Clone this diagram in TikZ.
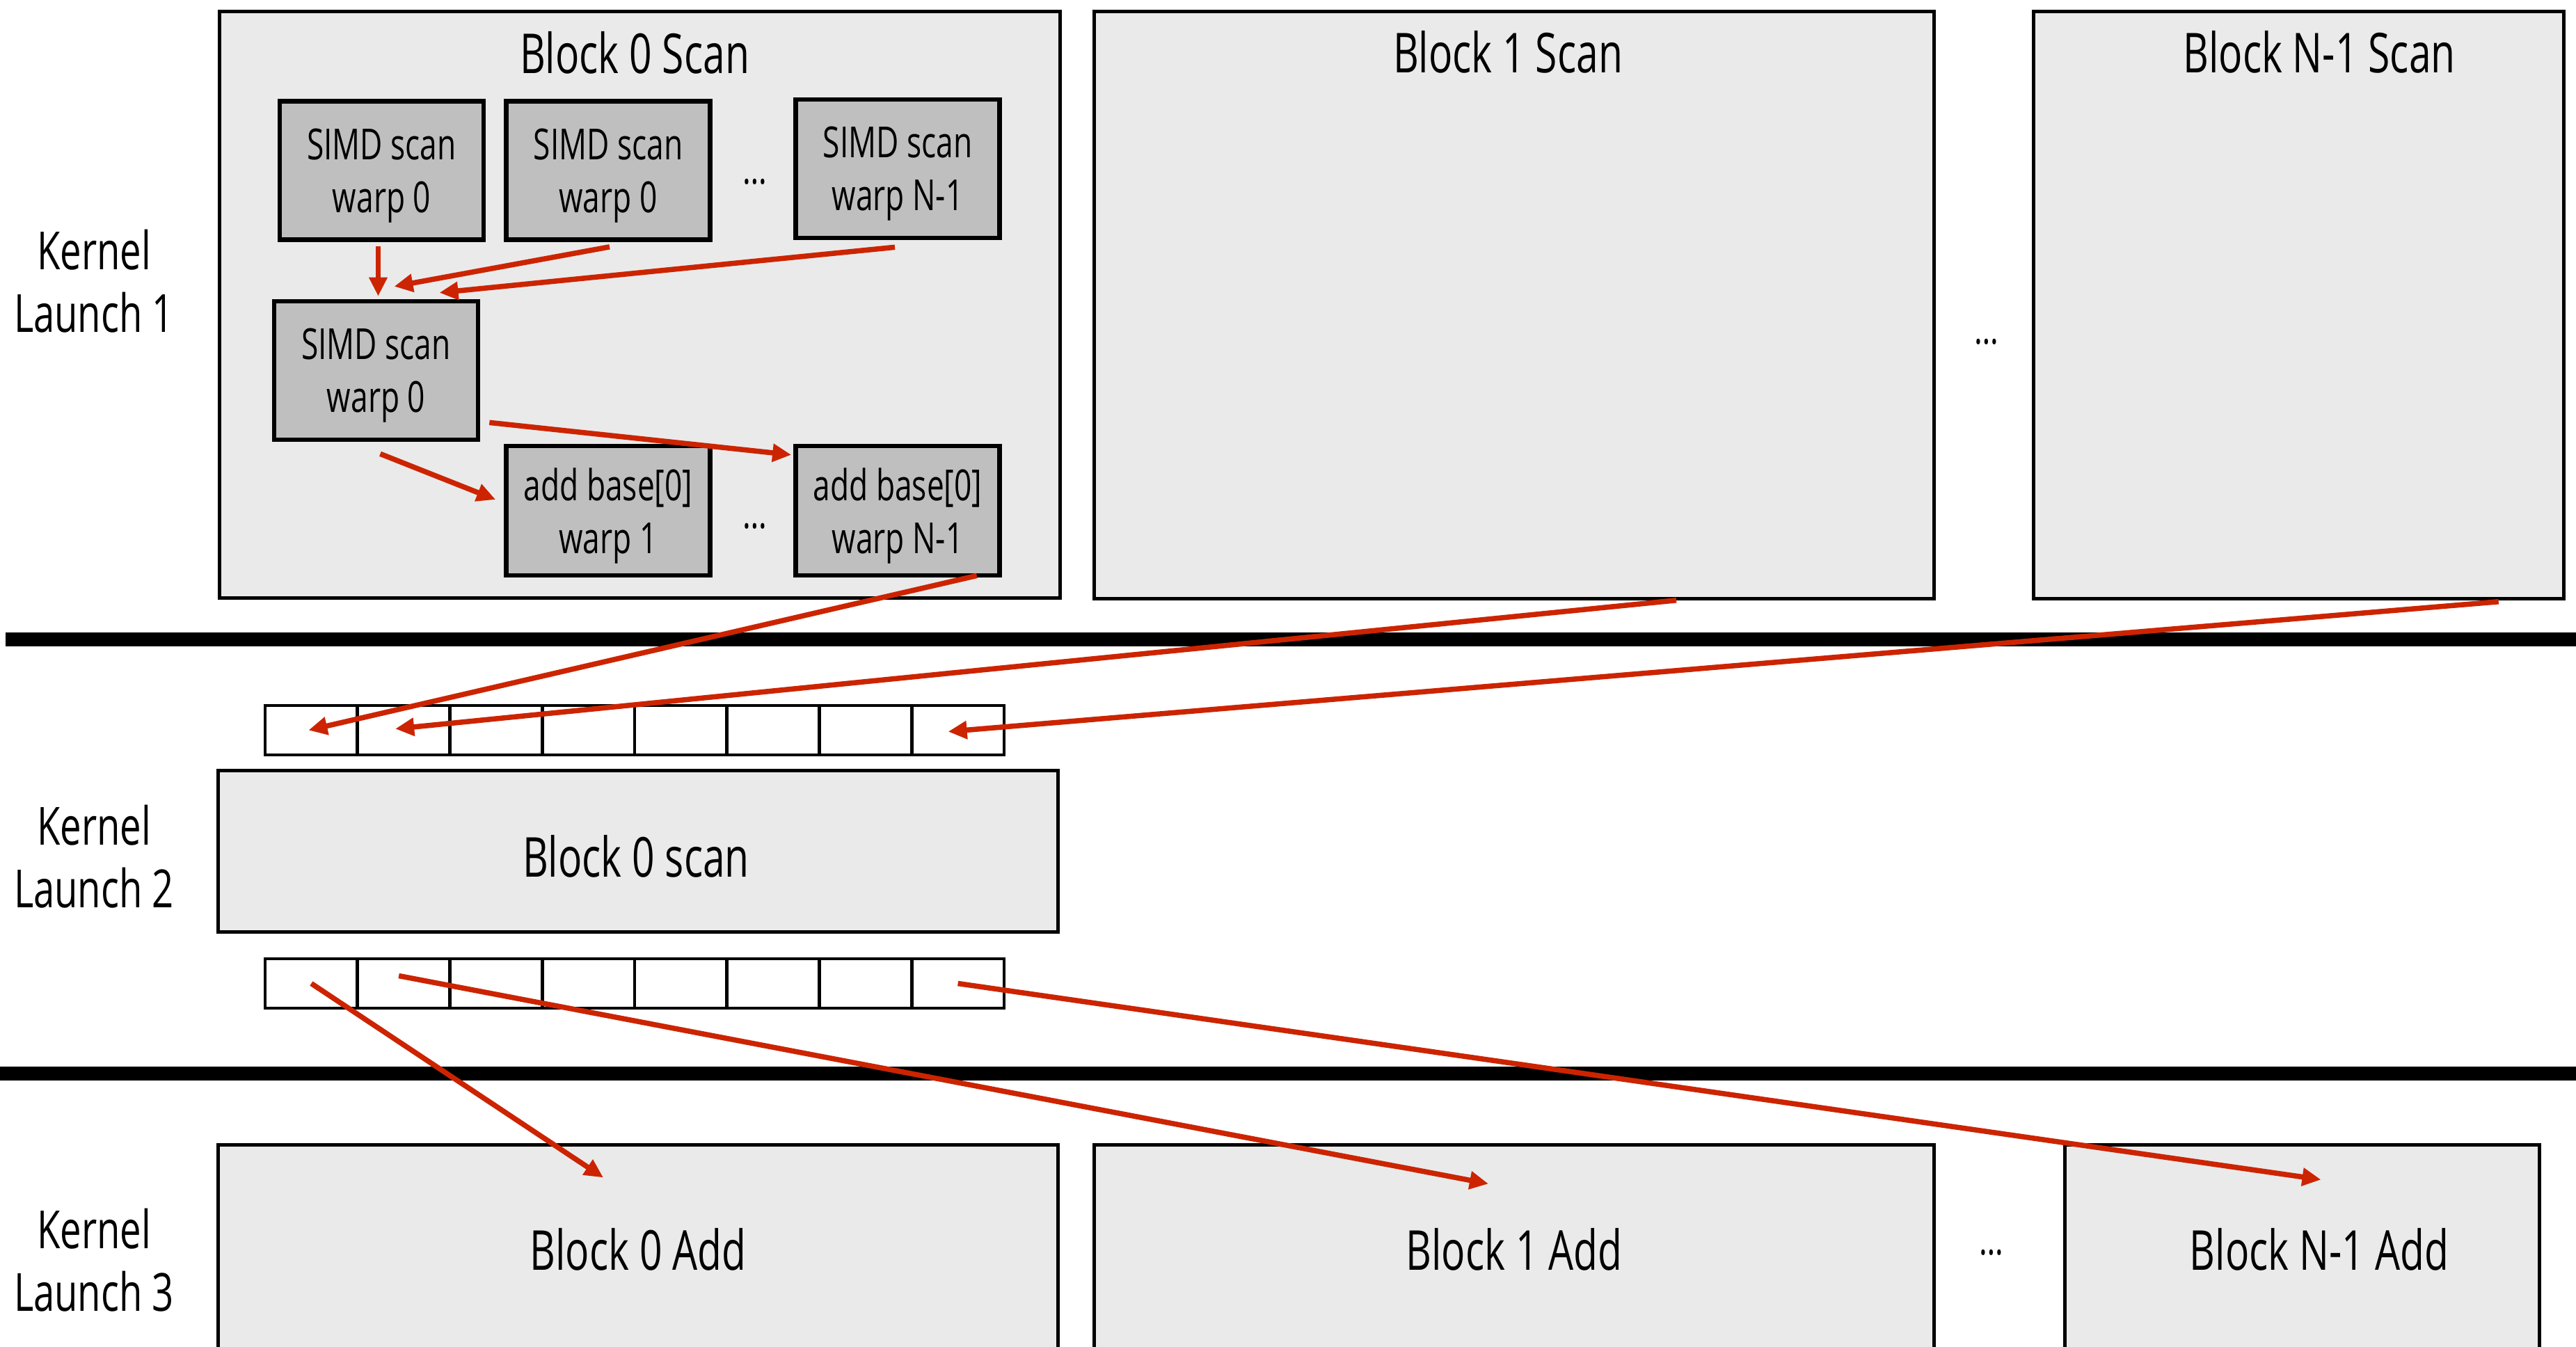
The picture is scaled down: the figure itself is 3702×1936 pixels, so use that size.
\documentclass[tikz,border=0pt]{standalone}
\usepackage{fontspec}
\setmainfont[FakeStretch=0.72]{Open Sans}
\usetikzlibrary{arrows.meta,calc}
\definecolor{scanred}{RGB}{204,36,0}
\definecolor{blockgray}{RGB}{234,234,234}
\definecolor{warpgray}{RGB}{191,191,191}

\begin{document}
\begin{tikzpicture}[x=0.01cm,y=-0.01cm,
	block/.style={draw,line width=0.05cm,fill=blockgray,inner sep=0pt},
	warp/.style={draw,line width=0.065cm,fill=warpgray,minimum width=2.93cm,minimum height=1.99cm,
		align=center,text depth=-0.09cm,font=\fontsize{17.5}{21.6}\selectfont},
	title/.style={font=\fontsize{22.5}{26}\selectfont},
	kernel/.style={align=center,font=\fontsize{21.5}{25.6}\selectfont},
	cell/.style={draw,line width=0.045cm,minimum width=1.3275cm,minimum height=0.71cm,inner sep=0pt},
	sep/.style={line width=0.2cm},
	arr/.style={scanred,line width=0.075cm,-{Triangle[length=0.27cm,width=0.25cm]}},
	dots/.style={anchor=base,font=\fontsize{17.5}{21}\selectfont}]
	\useasboundingbox (0,0) rectangle (3702,1936);
	\clip (0,0) rectangle (3702,1936);
	% kernel launch labels
	\node [kernel] (kl1) at (135,404) {Kernel\\Launch 1};
	\node [kernel] (kl2) at (135,1231) {Kernel\\Launch 2};
	\node [kernel] (kl3) at (135,1811) {Kernel\\Launch 3};
	% launch 1: block scans
	\node [block,minimum width=12.07cm,minimum height=8.42cm] (bscan0) at (919.5,438) {};
	\node [block,minimum width=12.06cm,minimum height=8.43cm] (bscan1) at (2176,438.5) {};
	\node [block,minimum width=7.61cm,minimum height=8.43cm] (bscanN) at (3303.5,438.5) {};
	\node [title] (tscan0) at (912,76) {Block 0 Scan};
	\node [title] (tscan1) at (2167,75) {Block 1 Scan};
	\node [title] (tscanN) at (3333,75) {Block N-1 Scan};
	\node [dots] (dotsScan) at (2855,494) {…};
	% warps inside block 0
	\node [warp] (warpA) at (548.5,245) {SIMD scan\\warp 0};
	\node [warp] (warpB) at (874,245) {SIMD scan\\warp 0};
	\node [warp] (warpN) at (1290,242.5) {SIMD scan\\warp N-1};
	\node [dots] (dotsTop) at (1085,264) {…};
	\node [warp] (warpSum) at (540.5,532.5) {SIMD scan\\warp 0};
	\node [warp,minimum height=1.86cm] (addOne) at (874,734) {add base[0]\\warp 1};
	\node [warp,minimum height=1.86cm] (addN) at (1290,734) {add base[0]\\warp N-1};
	\node [dots] (dotsMid) at (1085,759) {…};
	% separators
	\draw [sep] (8,919) -- (3702,919);
	\draw [sep] (0,1543) -- (3702,1543);
	% launch 2
	\foreach \i in {0,...,7} {
		\node [cell] (up\i) at ({381+132.75*(\i+0.5)},1049.5) {};
		\node [cell] (dn\i) at ({381+132.75*(\i+0.5)},1413.5) {};
	}
	\node [block,minimum width=12.06cm,minimum height=2.31cm] (bscanL2) at (917,1223.5) {};
	\node [title,anchor=base] (tscanL2) at (914,1260) {Block 0 scan};
	% launch 3: block adds
	\node [block,minimum width=12.06cm,minimum height=3cm,title] (badd0) at (917,1796) {Block 0 Add};
	\node [block,minimum width=12.06cm,minimum height=3cm,title] (badd1) at (2176,1796) {Block 1 Add};
	\node [block,minimum width=6.81cm,minimum height=3cm] (baddN) at (3308.5,1796) {};
	\node [title] (taddN) at (3333,1796) {Block N-1 Add};
	\node [dots] (dotsAdd) at (2862,1803) {…};
	% arrows
	\draw [arr] ($(warpA.south)+(-5,6)$) -- ($(warpSum.north)+(3,-4)$);
	\draw [arr] ($(warpB.south)+(2,7)$) -- ($(warpSum.north)+(26,-18)$);
	\draw [arr] ($(warpN.south)+(-4,10)$) -- ($(warpSum.north)+(91,-9)$);
	\draw [arr] ($(warpSum.south east)+(13,-28)$) -- ($(addN.north west)+(-3,16)$);
	\draw [arr] ($(warpSum.south)+(6,17)$) -- ($(addOne.west)+(-12,-16)$);
	\draw [arr] ($(addN.south east)+(-36,-3)$) -- ($(up0.center)+(-4,0)$);
	\draw [arr] ($(bscan1.south)+(233,0)$) -- ($(up1.center)+(-12,-2)$);
	\draw [arr] ($(bscanN.south east)+(-96,2)$) -- ($(up7.center)+(-14,2)$);
	\draw [arr] (dn0.center) -- ($(badd0.north)+(-50,49)$);
	\draw [arr] ($(dn1.center)+(-7,-11)$) -- ($(badd1.north)+(-37,58)$);
	\draw [arr] (dn7.center) -- ($(baddN.north)+(27,52)$);
\end{tikzpicture}
\end{document}
